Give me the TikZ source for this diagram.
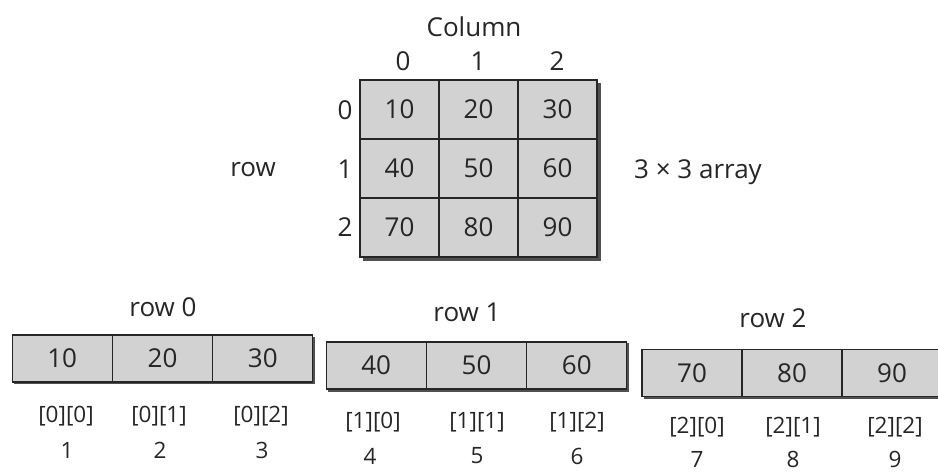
\documentclass[tikz,border=0pt]{standalone}
\usepackage{fontspec}
\setmainfont{Open Sans}
\definecolor{ink}{HTML}{262626}
\definecolor{cellgray}{HTML}{D2D2D2}
\definecolor{shadowgray}{HTML}{505050}
\begin{document}
\begin{tikzpicture}[x=1pt,y=-1pt,
  every node/.style={font=\fontsize{26}{29}\selectfont, text=ink},
  cell/.style={draw=ink, line width=1.3pt, fill=cellgray, minimum width=79pt, minimum height=59pt, inner sep=0pt},
  bcell/.style={draw=ink, line width=1.3pt, fill=cellgray, minimum width=100pt, minimum height=47pt, inner sep=0pt},
  lbl/.style={font=\fontsize{22.5}{25}\selectfont},
  shadow/.style={fill=shadowgray}]
\useasboundingbox (0,0) rectangle (938,472);
\fill[white] (0,0) rectangle (938,472);

% main 3x3 array
\fill[shadow] (363,83) rectangle (601,261);
\node[cell] (c00) at (399.5,109.5) {10};
\node[cell] (c01) at (478.5,109.5) {20};
\node[cell] (c02) at (557.5,109.5) {30};
\node[cell] (c10) at (399.5,168.5) {40};
\node[cell] (c11) at (478.5,168.5) {50};
\node[cell] (c12) at (557.5,168.5) {60};
\node[cell] (c20) at (399.5,227.5) {70};
\node[cell] (c21) at (478.5,227.5) {80};
\node[cell] (c22) at (557.5,227.5) {90};

\node (colt) at (474,27) {Column};
\node (h0) at (403,61) {0};
\node (h1) at (478,61) {1};
\node (h2) at (557,61) {2};
\node (v0) at (345,110) {0};
\node (v1) at (345,169) {1};
\node (v2) at (345,227) {2};
\node (rowt) at (253,170) {row};
\node (arr) at (698,172) {3 × 3 array};

% row 0
\fill[shadow] (14,337) rectangle (315,384);
\node[bcell] (a0) at (62.2,358.5) {10};
\node[bcell] (a1) at (162.5,358.5) {20};
\node[bcell] (a2) at (262.8,358.5) {30};
\node (r0) at (163,307) {row 0};
\node[lbl] (i0) at (66,416) {[0][0]};
\node[lbl] (i1) at (159,416) {[0][1]};
\node[lbl] (i2) at (261,416) {[0][2]};
\node[lbl] (n1) at (67,450) {1};
\node[lbl] (n2) at (160,450) {2};
\node[lbl] (n3) at (262,450) {3};

% row 1
\fill[shadow] (328,343) rectangle (629,392);
\node[bcell] (a3) at (376.2,365.5) {40};
\node[bcell] (a4) at (476.5,365.5) {50};
\node[bcell] (a5) at (576.8,365.5) {60};
\node (r1) at (467,312) {row 1};
\node[lbl] (i3) at (373,422) {[1][0]};
\node[lbl] (i4) at (477,422) {[1][1]};
\node[lbl] (i5) at (577,422) {[1][2]};
\node[lbl] (n4) at (370,456) {4};
\node[lbl] (n5) at (477,456) {5};
\node[lbl] (n6) at (577,456) {6};

% row 2
\fill[shadow] (644,351) rectangle (945,399);
\node[bcell] (a6) at (692,373) {70};
\node[bcell] (a7) at (792,373) {80};
\node[bcell] (a8) at (892,373) {90};
\node (r2) at (773,318) {row 2};
\node[lbl] (i6) at (697,427) {[2][0]};
\node[lbl] (i7) at (793,427) {[2][1]};
\node[lbl] (i8) at (895,427) {[2][2]};
\node[lbl] (n7) at (697,459) {7};
\node[lbl] (n8) at (793,459) {8};
\node[lbl] (n9) at (895,459) {9};
\end{tikzpicture}
\end{document}
